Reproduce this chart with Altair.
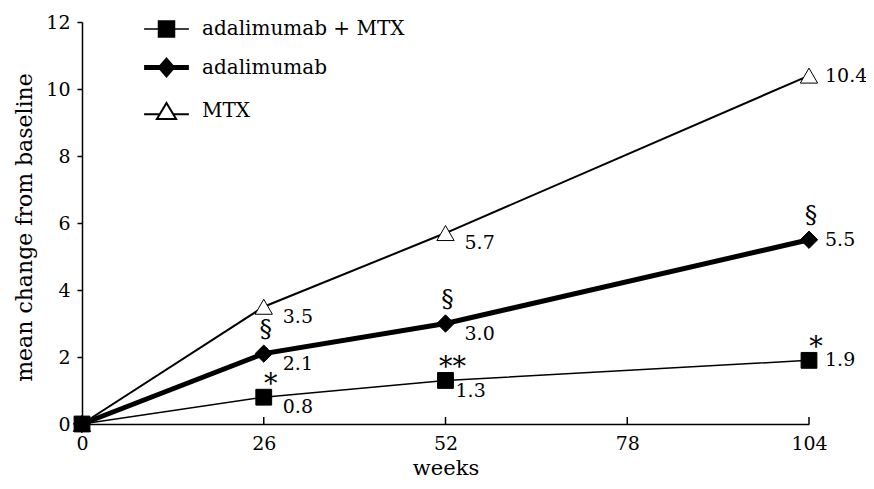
import altair as alt
import pandas as pd

weeks = [0, 26, 52, 104]
series_names = ["adalimumab + MTX", "adalimumab", "MTX"]
combo_vals = [0, 0.8, 1.3, 1.9]
ada_vals = [0, 2.1, 3.0, 5.5]
mtx_vals = [0, 3.5, 5.7, 10.4]
combo_sig = ["", "*", "**", "*"]
ada_sig = ["", "§", "§", "§"]
mtx_sig = ["", "", "", ""]
x_ticks = [0, 26, 52, 78, 104]
y_ticks = [0, 2, 4, 6, 8, 10, 12]

rows = []
for name, vals, sig in zip(series_names, [combo_vals, ada_vals, mtx_vals],
                           [combo_sig, ada_sig, mtx_sig]):
    for w, v, s in zip(weeks, vals, sig):
        rows.append({"series": name, "week": w, "value": v, "sig": s,
                     "label": f"{v:.1f}" if w > 0 else ""})
df = pd.DataFrame(rows)
df_pts = pd.concat([df[df.series == n] for n in reversed(series_names)], ignore_index=True)
df_ticks = pd.DataFrame({"week": x_ticks[1:], "value": [0] * (len(x_ticks) - 1)})

FONT = "DejaVu Serif"

x_scale = alt.Scale(domain=[0, 104], nice=False, zero=True)
y_scale = alt.Scale(domain=[0, 12], nice=False)
x_enc = alt.X("week:Q", scale=x_scale,
              axis=alt.Axis(values=x_ticks, title="weeks", grid=False, ticks=False,
                            labelFlush=False, labelPadding=10, titlePadding=4,
                            titleFontSize=21))
y_enc = alt.Y("value:Q", scale=y_scale,
              axis=alt.Axis(values=y_ticks, title="mean change from baseline",
                            grid=False, tickSize=5, labelPadding=7, titlePadding=9,
                            labelFlush=False, titleFontSize=22, titleY=205))

base = alt.Chart(df).encode(x=x_enc, y=y_enc)

xticks = alt.Chart(df_ticks).mark_tick(orient="vertical", size=7, thickness=1.5,
                                        yOffset=-3.5, color="black", opacity=1).encode(
    x=alt.X("week:Q", scale=x_scale), y=alt.Y("value:Q", scale=y_scale))

widths = [1.5, 5, 2]
line_layers = [
    base.mark_line(color="black", strokeWidth=w).transform_filter(alt.datum.series == n)
    for n, w in zip(series_names, widths)
]

points = alt.Chart(df_pts).mark_point(filled=True, opacity=1, stroke="black",
                                      strokeWidth=1).encode(
    x=x_enc, y=y_enc,
    shape=alt.Shape("series:N",
                    scale=alt.Scale(domain=series_names,
                                    range=["square", "diamond", "triangle-up"]),
                    legend=None),
    fill=alt.Fill("series:N",
                  scale=alt.Scale(domain=series_names, range=["black", "black", "white"]),
                  legend=None),
    size=alt.Size("series:N",
                  scale=alt.Scale(type="ordinal", domain=series_names,
                                  range=[250, 300, 300]),
                  legend=None),
)

# legend symbols: marker with line stubs (unit = 16 px at symbolSize 1024)
sq = "M-1.4,0H-0.5M0.5,0H1.4M-0.5,-0.5H0.5V0.5H-0.5Z"
dm = "M-1.4,0H-0.4M0.4,0H1.4M0,-0.42L0.36,0L0,0.42L-0.36,0Z"
tr = "M-1.4,0.2H-0.45M0.45,0.2H1.4M0,-0.5L0.6,0.5H-0.6Z"

legend = alt.Legend(
    orient="none", legendX=66, legendY=-10, title=None,
    symbolSize=1024, rowPadding=9, labelOffset=17, labelLimit=0,
    labelFont=FONT, labelFontSize=20, labelColor="black",
    symbolOpacity=1,
)

proxy = base.mark_point(filled=True, opacity=1, clip=True, yOffset=-3000).encode(
    shape=alt.Shape("series:N", scale=alt.Scale(domain=series_names, range=[sq, dm, tr]),
                    legend=legend, sort=series_names),
    fill=alt.Fill("series:N",
                  scale=alt.Scale(domain=series_names, range=["black", "black", "white"]),
                  legend=legend, sort=series_names),
    stroke=alt.Stroke("series:N",
                      scale=alt.Scale(domain=series_names, range=["black", "black", "black"]),
                      legend=legend, sort=series_names),
    strokeWidth=alt.StrokeWidth("series:N",
                                scale=alt.Scale(type="ordinal", domain=series_names,
                                                range=widths),
                                legend=legend, sort=series_names),
).transform_filter(alt.datum.week == 0)

txt = dict(font=FONT, fontSize=19, color="black", align="left", baseline="middle")

lab_end = base.mark_text(dx=16, dy=0, **txt).encode(text="label:N").transform_filter(
    alt.datum.week == 104)
lab_mid = base.mark_text(dx=19, dy=10, **txt).encode(text="label:N").transform_filter(
    (alt.datum.week > 0) & (alt.datum.week < 104) &
    ~((alt.datum.week == 52) & (alt.datum.series == series_names[0])))
lab_mid2 = base.mark_text(dx=10, dy=11, **txt).encode(text="label:N").transform_filter(
    (alt.datum.week == 52) & (alt.datum.series == series_names[0]))

sig_ada = base.mark_text(dx=2, dy=-25, font=FONT, fontSize=25, color="black",
                         align="center", baseline="middle").encode(
    text="sig:N").transform_filter(alt.datum.series == series_names[1])
sig_combo = base.mark_text(dx=7, dy=-12, font=FONT, fontSize=27, color="black",
                           align="center", baseline="middle").encode(
    text="sig:N").transform_filter(alt.datum.series == series_names[0])

chart = alt.layer(xticks, *line_layers, points, proxy, lab_end, lab_mid, lab_mid2,
                  sig_ada, sig_combo).resolve_scale(
    shape="independent", fill="independent", strokeWidth="independent",
    stroke="independent", size="independent",
).properties(
    width=727, height=402,
    autosize=alt.AutoSizeParams(type="none"),
    padding={"left": 74, "top": 14, "right": 57, "bottom": 57},
).configure_axis(
    domainColor="black", domainWidth=1.5, tickColor="black", tickWidth=1.5,
    labelFont=FONT, labelFontSize=19, labelColor="black",
    titleFont=FONT, titleFontWeight="normal", titleColor="black",
).configure_view(stroke=None)

chart.save("out.html", embed_options={"renderer": "svg", "actions": False})
